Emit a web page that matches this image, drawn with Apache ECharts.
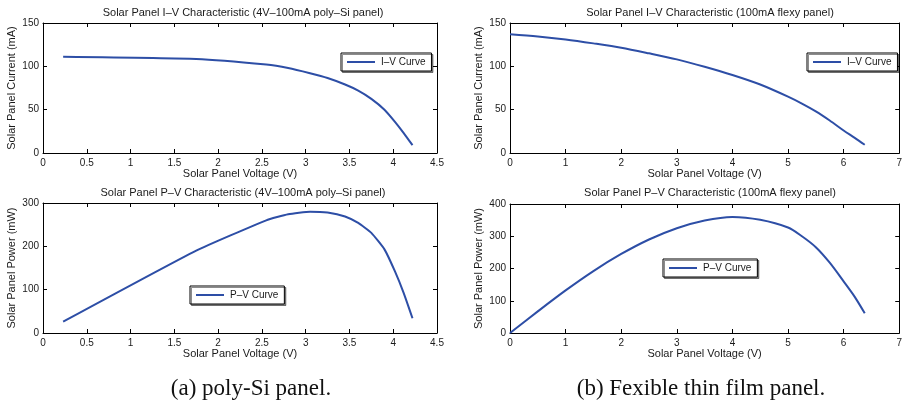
<!DOCTYPE html>
<html>
<head>
<meta charset="utf-8">
<script src="https://cdn.jsdelivr.net/npm/echarts@6/dist/echarts.min.js"></script>
<style>
  html, body { margin: 0; padding: 0; background: #fff; }
  #chart { width: 905px; height: 411px; }
</style>
</head>
<body>
<div id="chart"></div>
<script>
// 4V-100mA poly-Si panel measurements
const polyVoltage = [0.23, 1.75, 2.55, 2.80, 3.05, 3.25, 3.45, 3.60, 3.75, 3.90, 4.02, 4.12, 4.22];
const polyCurrent = [111, 108.5, 102, 98, 92, 86.5, 79, 72, 62.5, 50, 36, 23, 9];
const polyPower = [26, 190, 260, 274, 280, 278, 269, 254, 231, 193, 142, 92, 34];

// 100mA flexible thin film panel measurements
const flexVoltage = [0, 0.5, 1, 1.5, 2, 2.5, 3, 3.5, 4, 4.5, 5, 5.25, 5.5, 5.75, 6, 6.2, 6.38];
const flexCurrent = [137, 134.5, 131, 126.5, 121.5, 115, 108, 99.5, 90, 79, 65, 57, 48, 37.5, 26, 17.5, 9.5];
const flexPower = [0, 67, 132, 192, 245, 290, 325, 349, 360, 351, 327, 300, 266, 218, 160, 112, 61];

const panelTitles = [
  'Solar Panel I\u2013V Characteristic (4V\u2013100mA poly\u2013Si panel)',
  'Solar Panel I\u2013V Characteristic (100mA flexy panel)',
  'Solar Panel P\u2013V Characteristic (4V\u2013100mA poly\u2013Si panel)',
  'Solar Panel P\u2013V Characteristic (100mA flexy panel)'
];
const captions = ['(a) poly-Si panel.', '(b) Fexible thin film panel.'];
const ivName = 'I\u2013V Curve';
const pvName = 'P\u2013V Curve';
const xName = 'Solar Panel Voltage (V)';
const currentName = 'Solar Panel Current (mA)';
const powerName = 'Solar Panel Power (mW)';

const LINE = '#2d4ea6';
const FONT = 'Liberation Sans, Arial, Helvetica, sans-serif';

const pairs = (xs, ys) => xs.map((x, i) => [x, ys[i]]);

const grids = [
  { left: 43, top: 23, width: 394, height: 130 },
  { left: 510, top: 23, width: 392, height: 130 },
  { left: 43, top: 203, width: 394, height: 130 },
  { left: 510, top: 204, width: 392, height: 129 }
];
const xRanges = [[0, 4.5, 0.5], [0, 7, 1], [0, 4.5, 0.5], [0, 7, 1]];
const yRanges = [[0, 150, 50], [0, 150, 50], [0, 300, 100], [0, 400, 100]];
const yNames = [currentName, currentName, powerName, powerName];

const tickStyle = { inside: true, length: 4, lineStyle: { color: '#000', width: 1 } };
const lineAxis = { show: true, onZero: false, lineStyle: { color: '#000', width: 1 } };
const labelStyle = { color: '#1a1a1a', fontSize: 10, fontFamily: FONT };

const xAxis = [], yAxis = [];
grids.forEach((g, i) => {
  const [xmin, xmax, xstep] = xRanges[i];
  const [ymin, ymax, ystep] = yRanges[i];
  xAxis.push({
    type: 'value', gridIndex: i, position: 'bottom', min: xmin, max: xmax, interval: xstep,
    axisLine: lineAxis, axisTick: tickStyle, splitLine: { show: false },
    axisLabel: Object.assign({ margin: 5, showMaxLabel: true }, labelStyle),
    name: xName, nameLocation: 'middle', nameGap: 15,
    nameTextStyle: { color: '#1a1a1a', fontSize: 11, fontFamily: FONT, verticalAlign: 'top' }
  });
  xAxis.push({
    type: 'value', gridIndex: i, position: 'top', min: xmin, max: xmax, interval: xstep,
    axisLine: lineAxis, axisTick: tickStyle, splitLine: { show: false }, axisLabel: { show: false }
  });
  yAxis.push({
    type: 'value', gridIndex: i, position: 'left', min: ymin, max: ymax, interval: ystep,
    axisLine: lineAxis, axisTick: tickStyle, splitLine: { show: false },
    axisLabel: Object.assign({ margin: 4 }, labelStyle),
    name: yNames[i], nameLocation: 'middle', nameGap: 26,
    nameTextStyle: { color: '#1a1a1a', fontSize: 11, fontFamily: FONT }
  });
  yAxis.push({
    type: 'value', gridIndex: i, position: 'right', min: ymin, max: ymax, interval: ystep,
    axisLine: lineAxis, axisTick: tickStyle, splitLine: { show: false }, axisLabel: { show: false }
  });
});

const seriesBase = {
  type: 'line', symbol: 'none', animation: false,
  lineStyle: { color: LINE, width: 2 }, itemStyle: { color: LINE }
};
const series = [
  Object.assign({ name: ivName, xAxisIndex: 0, yAxisIndex: 0, smooth: 0.15, data: pairs(polyVoltage, polyCurrent) }, seriesBase),
  Object.assign({ name: ivName, xAxisIndex: 2, yAxisIndex: 2, smooth: 0.3, data: pairs(flexVoltage, flexCurrent) }, seriesBase),
  Object.assign({ name: pvName, xAxisIndex: 4, yAxisIndex: 4, smooth: 0.15, data: pairs(polyVoltage, polyPower) }, seriesBase),
  Object.assign({ name: pvName, xAxisIndex: 6, yAxisIndex: 6, smooth: 0.3, data: pairs(flexVoltage, flexPower) }, seriesBase)
];

const legendPos = [
  { left: 341, top: 53, name: ivName },
  { left: 807, top: 53, name: ivName },
  { left: 190, top: 286, name: pvName },
  { left: 663, top: 259, name: pvName }
];
const legend = legendPos.map(p => ({
  left: p.left, top: p.top, data: [{ name: p.name, icon: 'rect' }], selectedMode: false,
  orient: 'vertical', itemWidth: 28, itemHeight: 2, itemGap: 0,
  itemStyle: { color: LINE, borderWidth: 0 },
  padding: [4, 6, 4, 6], backgroundColor: '#fff',
  borderColor: '#000', borderWidth: 1,
  shadowColor: 'rgba(0,0,0,0.45)', shadowOffsetX: 1.5, shadowOffsetY: 1.5, shadowBlur: 0,
  textStyle: { color: '#1a1a1a', fontSize: 10, fontFamily: FONT, padding: [0, 0, 0, 1] }
}));

const titleCenters = [[243, 7], [710, 7], [243, 187], [710, 187]];
const title = panelTitles.map((t, i) => ({
  text: t, left: titleCenters[i][0], top: titleCenters[i][1], textAlign: 'center', padding: 0,
  textStyle: { color: '#1a1a1a', fontSize: 11, fontWeight: 'normal', fontFamily: FONT }
}));
[[251, 377], [701, 377]].forEach((c, i) => {
  title.push({
    text: captions[i], left: c[0], top: c[1], textAlign: 'center', padding: 0,
    textStyle: { color: '#111', fontSize: 23, fontWeight: 'normal', fontFamily: 'Liberation Serif, Times New Roman, serif' }
  });
});

const chart = echarts.init(document.getElementById('chart'), null, { renderer: 'canvas' });
chart.setOption({
  animation: false,
  backgroundColor: '#fff',
  title: title,
  grid: grids.map(g => Object.assign({ containLabel: false, show: false }, g)),
  xAxis: xAxis,
  yAxis: yAxis,
  legend: legend,
  series: series
});
</script>
</body>
</html>
